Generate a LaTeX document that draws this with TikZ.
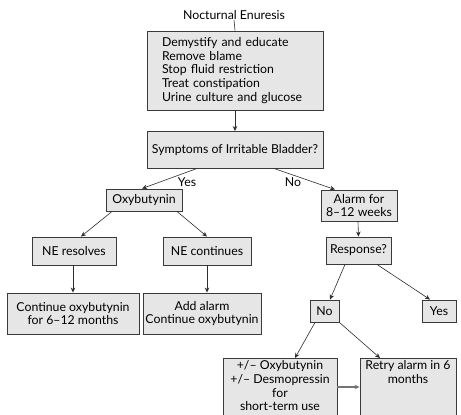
\documentclass[tikz,border=0pt]{standalone}
\usepackage{fontspec}
\setmainfont{Lato}
\usetikzlibrary{arrows.meta}
\definecolor{boxf}{HTML}{E6E6E6}
\definecolor{boxc}{HTML}{3A3A3A}
\definecolor{arrc}{HTML}{2E2E2E}
\tikzset{
  fbox/.style={draw=boxc, fill=boxf, line width=0.9pt, inner sep=0pt, align=center,
    font=\fontsize{12.3}{13.8}\selectfont},
  lbl/.style={inner sep=0pt, font=\fontsize{12.3}{13.8}\selectfont},
  arr/.style={draw=arrc, line width=0.6pt, -{Stealth[length=5pt,width=4.5pt]}},
  garr/.style={draw=black!55, line width=1.1pt, -{Stealth[length=5pt,width=4.5pt]}},
}
\begin{document}
\begin{tikzpicture}[x=1pt,y=-1pt]
\clip (0,0) rectangle (461,415);
\fill[white] (0,0) rectangle (461,415);

\node[lbl] (title) at (234,15) {Nocturnal Enuresis};
\node[fbox, minimum width=176pt, minimum height=79pt, text width=146pt, align=left] (b1) at (235,70.5)
  {Demystify and educate\\Remove blame\\Stop fluid restriction\\Treat constipation\\Urine culture and glucose};
\node[fbox, minimum width=176pt, minimum height=36.5pt] (b2) at (235,149.75) {Symptoms of Irritable Bladder?};
\node[fbox, minimum width=76pt, minimum height=22pt] (oxy) at (144,200) {Oxybutynin};
\node[fbox, minimum width=76pt, minimum height=31pt] (alarm) at (359,205.5) {Alarm for\\8--12 weeks};
\node[fbox, minimum width=65pt, minimum height=27pt] (resp) at (358.5,250.5) {Response?};
\node[fbox, minimum width=84pt, minimum height=28pt] (ner) at (74,251) {NE resolves};
\node[fbox, minimum width=88pt, minimum height=28pt] (nec) at (207,251) {NE continues};
\node[fbox, minimum width=132pt, minimum height=41pt] (cont) at (73,313.5) {Continue oxybutynin\\for 6--12 months};
\node[fbox, minimum width=118pt, minimum height=41pt] (add) at (202,313.5) {Add alarm\\Continue oxybutynin};
\node[fbox, minimum width=29pt, minimum height=22pt] (no) at (324.5,311) {No};
\node[fbox, minimum width=34pt, minimum height=22pt] (yes) at (439,311) {Yes};
\node[fbox, anchor=north, minimum width=114pt, inner ysep=2pt, text depth=60pt] (od) at (280,358)
  {+/-- Oxybutynin\\+/-- Desmopressin\\for\\short-term use};
\node[fbox, anchor=north, minimum width=96pt, inner ysep=2pt, text depth=60pt] (retry) at (408,358)
  {Retry alarm in 6\\months};

\node[lbl] (yeslbl) at (187,182) {Yes};
\node[lbl] (nolbl) at (293,182) {No};

\draw[draw=arrc, line width=0.6pt] (title.south) -- (b1.north);
\draw[arr] (b1.south) -- (b2.north);
\draw[arr] ([xshift=-38pt]b2.south) -- ([xshift=-2pt]oxy.north);
\draw[arr] ([xshift=39pt]b2.south) -- ([xshift=-24pt]alarm.north);
\draw[arr] ([xshift=-1pt]alarm.south) -- (resp.north);
\draw[arr] ([xshift=-32pt]oxy.south) -- ([xshift=7pt]ner.north);
\draw[arr] ([xshift=33pt]oxy.south) -- (nec.north);
\draw[arr] ([xshift=-1pt]ner.south) -- ([xshift=-1pt]ner.south |- cont.north);
\draw[arr] (nec.south) -- (nec.south |- add.north);
\draw[arr] ([xshift=-13.5pt]resp.south) -- ([xshift=5.5pt]no.north);
\draw[arr] ([xshift=18.5pt]resp.south) -- ([xshift=-9pt]yes.north);
\draw[arr] ([xshift=-9.5pt]no.south) -- ([xshift=15pt]od.north);
\draw[arr] (no.south east) -- ([xshift=-28pt]retry.north);
\draw[garr] ([yshift=-29pt]od.north east) -- ([yshift=-29pt]retry.north west);
\end{tikzpicture}
\end{document}
